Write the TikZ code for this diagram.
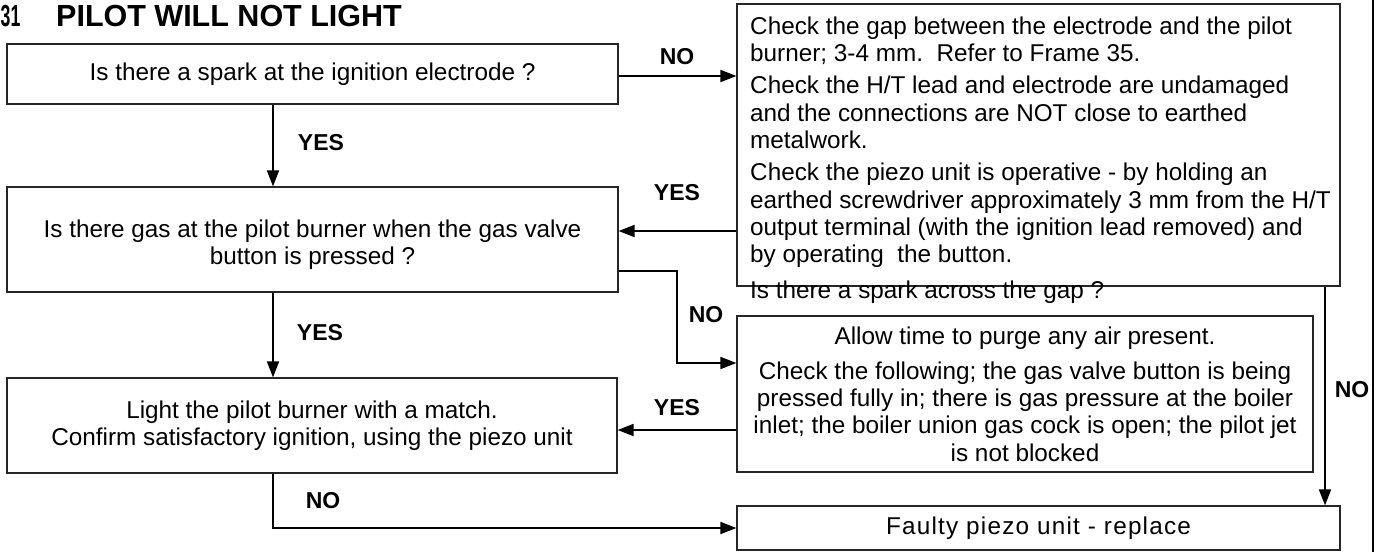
\documentclass[tikz,border=0pt]{standalone}
\usepackage{fontspec}
\setmainfont{Liberation Sans}
\usetikzlibrary{arrows.meta}
\newcommand\bodyfnt{\fontsize{24.3}{27.3}\selectfont}
\newcommand\lblfnt{\bfseries\fontsize{23}{26}\selectfont}
\newcommand\ttlfnt{\bfseries\fontsize{30.5}{34}\selectfont}
\tikzset{
  box/.style={draw=black!85, line width=1.2pt, inner sep=0pt, align=center, font=\bodyfnt},
  lbl/.style={font=\lblfnt, inner sep=0pt},
  arr/.style={line width=1.8pt, -{Triangle[length=16pt,width=12pt]}},
  edge/.style={line width=2.6pt}
}
\begin{document}
\begin{tikzpicture}[x=1pt,y=-1pt]
\useasboundingbox (0,0) rectangle (1380,552);
\clip (0,0) rectangle (1380,552);
\fill[white] (0,0) rectangle (1380,552);

% title
\node[font=\ttlfnt, anchor=base west, inner sep=0pt] (num) at (0.5,26) {\scalebox{0.58}[1]{31}};
\node[font=\ttlfnt, anchor=base west, inner sep=0pt] (title) at (56,26) {PILOT WILL NOT LIGHT};

% left column
\node[box, minimum width=611, minimum height=60] (box1) at (312.5,74)
  {Is there a spark at the ignition electrode ?};
\node[box, minimum width=611, minimum height=105] (box2) at (312.5,239.5) {};
\node[font=\bodyfnt, align=center, inner sep=0pt] (box2txt) at (312.5,245)
  {Is there gas at the pilot burner when the gas valve\\button is pressed ?};
\node[box, minimum width=610, minimum height=95] (box3) at (312,425.5)
  {Light the pilot burner with a match.\\Confirm satisfactory ignition, using the piezo unit};

% right column
\node[box, minimum width=603, minimum height=282] (r1) at (1038.5,145) {};
\node[font=\bodyfnt, align=left, anchor=north west, inner sep=0pt] (r1txt) at (750,16.5)
  {Check the gap between the electrode and the pilot\\
   burner; 3-4 mm.\ \ Refer to Frame 35.\\[5pt]
   Check the H/T lead and electrode are undamaged\\
   and the connections are NOT close to earthed\\
   metalwork.\\[5pt]
   Check the piezo unit is operative - by holding an\\
   earthed screwdriver approximately 3 mm from the H/T\\
   output terminal (with the ignition lead removed) and\\
   by operating\ \ the button.\\[8pt]
   Is there a spark across the gap ?};
\node[box, minimum width=576, minimum height=156] (r2) at (1025,394)
  {Allow time to purge any air present.\\[8pt]
   Check the following; the gas valve button is being\\
   pressed fully in; there is gas pressure at the boiler\\
   inlet; the boiler union gas cock is open; the pilot jet\\
   is not blocked};
\node[box, minimum width=603, minimum height=44] (r3) at (1038.5,528)
  {\addfontfeature{LetterSpace=5}Faulty piezo unit - replace};

% helper coordinates
\coordinate (xA) at (273,0);
\coordinate (xN) at (677,0);
\coordinate (xR) at (1325,0);
\coordinate (y76) at (0,76);
\coordinate (y231) at (0,231);
\coordinate (y271) at (0,271);
\coordinate (y363) at (0,363);
\coordinate (y430) at (0,430);
\coordinate (bt) at (1373,0);
\coordinate (bb) at (1373,552);

% connectors
\draw[arr] (box1.east |- y76) -- (r1.west |- y76);
\draw[arr] (box1.south -| xA) -- (box2.north -| xA);
\draw[arr] (r1.west |- y231) -- (box2.east |- y231);
\draw[arr] (box2.east |- y271) -| (xN |- y363) -- (r2.west |- y363);
\draw[arr] (box2.south -| xA) -- (box3.north -| xA);
\draw[arr] (r2.west |- y430) -- (box3.east |- y430);
\draw[arr] (box3.south -| xA) |- (r3.west);
\draw[arr] (r1.south -| xR) -- (r3.north -| xR);
\draw[edge] (bt) -- (bb);

% labels
\node[lbl] (l1) at (677,57) {NO};
\node[lbl] (l2) at (321,143) {YES};
\node[lbl] (l3) at (677,193) {YES};
\node[lbl] (l4) at (706,315) {NO};
\node[lbl] (l5) at (320,333) {YES};
\node[lbl] (l6) at (677,408) {YES};
\node[lbl] (l7) at (323,501) {NO};
\node[lbl] (l8) at (1352,390) {NO};
\end{tikzpicture}
\end{document}
